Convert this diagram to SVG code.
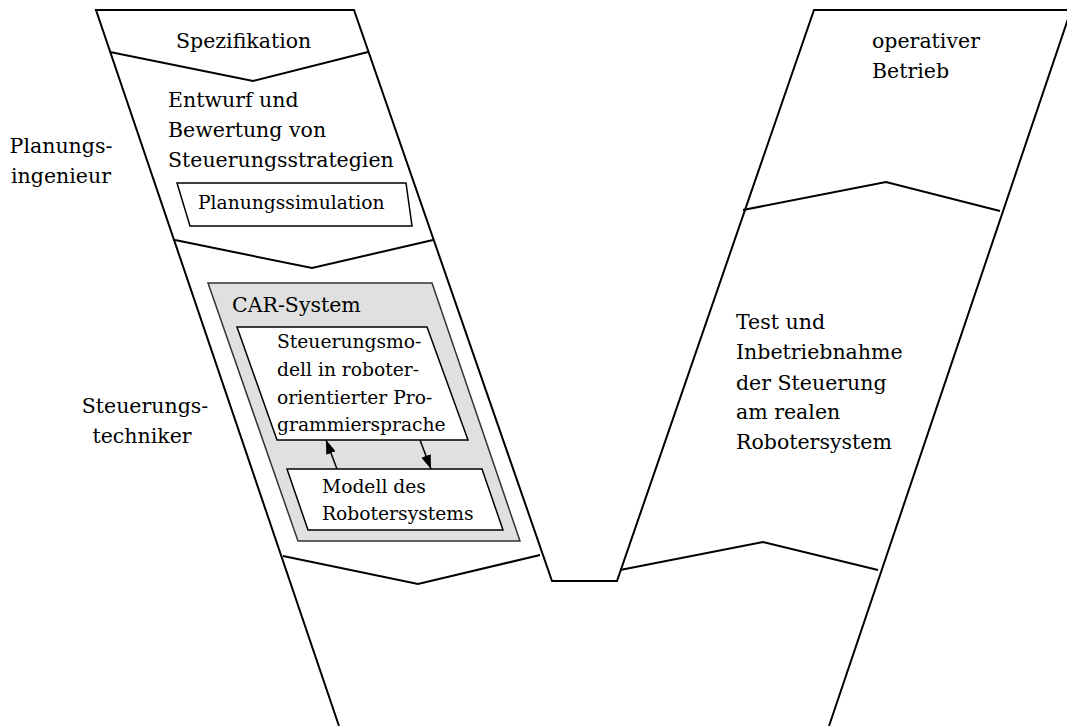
<svg xmlns="http://www.w3.org/2000/svg" width="1067" height="726" viewBox="0 0 1067 726">
  <style>
    .outline { fill: none; stroke: #000; stroke-width: 2; stroke-linejoin: miter; }
    .divider { fill: none; stroke: #000; stroke-width: 2; }
    .box { fill: #fff; stroke: #000; stroke-width: 1.5; }
    .gray { fill: #e0e0e0; stroke: #333; stroke-width: 1.5; }
    .t { font-family: "DejaVu Serif", "Liberation Serif", serif; font-size: 20.5px; fill: #000; }
    .s { font-family: "DejaVu Serif", "Liberation Serif", serif; font-size: 18.7px; fill: #000; }
    .mid { text-anchor: middle; }
    .conn { fill: none; stroke: #000; stroke-width: 1.5; }
  </style>
  <defs>
    <marker id="arrow" viewBox="0 0 14 10" refX="14" refY="5" markerWidth="14" markerHeight="10" markerUnits="userSpaceOnUse" orient="auto">
      <path d="M0,0 L14,5 L0,10 Z" fill="#000"/>
    </marker>
  </defs>
  <rect width="1067" height="726" fill="#fff"/>

  <g id="v-outline">
    <path class="outline" d="M339,726 L96,10 L354,10 L552,581 L617,581 L814,10 L1071,10 L829,726"/>
  </g>

  <g id="phase-dividers">
    <path class="divider" d="M110,52 L253,81 L368,52"/>
    <path class="divider" d="M175,240 L312,268 L433,240"/>
    <path class="divider" d="M283,556 L418,584 L540,555"/>
    <path class="divider" d="M743,210 L886,182 L1000,211"/>
    <path class="divider" d="M620,570 L763,542 L878,570"/>
  </g>

  <g id="role-planungsingenieur">
    <text class="t mid" x="61" y="153">Planungs-</text>
    <text class="t mid" x="61" y="183">ingenieur</text>
  </g>

  <g id="role-steuerungstechniker">
    <text class="t mid" x="145" y="413">Steuerungs-</text>
    <text class="t mid" x="142" y="443">techniker</text>
  </g>

  <g id="spezifikation">
    <text class="t" x="176" y="48">Spezifikation</text>
  </g>

  <g id="entwurf">
    <text class="t" x="168" y="107">Entwurf und</text>
    <text class="t" x="168" y="137">Bewertung von</text>
    <text class="t" x="168" y="167">Steuerungsstrategien</text>
  </g>

  <g id="planungssimulation">
    <path class="box" d="M177,183 L406,183 L412,226 L190,226 Z"/>
    <text class="s" x="198" y="209">Planungssimulation</text>
  </g>

  <g id="car-system">
    <path class="gray" d="M208,283 L432,283 L520,541 L298,541 Z"/>
    <text class="t" x="232" y="312">CAR-System</text>
  </g>

  <g id="steuerungsmodell">
    <path class="box" d="M237,327 L427,327 L468,440 L277,440 Z"/>
    <text class="s" x="277" y="348">Steuerungsmo-</text>
    <text class="s" x="277" y="376">dell in roboter-</text>
    <text class="s" x="277" y="404">orientierter Pro-</text>
    <text class="s" x="277" y="431">grammiersprache</text>
  </g>

  <g id="modell-robotersystem">
    <path class="box" d="M287,469 L482,469 L503,530 L308,530 Z"/>
    <text class="s" x="322" y="493">Modell des</text>
    <text class="s" x="322" y="520">Robotersystems</text>
  </g>

  <g id="operativer-betrieb">
    <text class="t" x="872" y="48">operativer</text>
    <text class="t" x="872" y="78">Betrieb</text>
  </g>

  <g id="test-inbetriebnahme">
    <text class="t" x="736" y="329">Test und</text>
    <text class="t" x="736" y="359">Inbetriebnahme</text>
    <text class="t" x="736" y="390">der Steuerung</text>
    <text class="t" x="736" y="419">am realen</text>
    <text class="t" x="736" y="449">Robotersystem</text>
  </g>

  <g id="connectors">
    <line class="conn" x1="337" y1="469" x2="326" y2="440" marker-end="url(#arrow)"/>
    <line class="conn" x1="420" y1="440" x2="431" y2="469" marker-end="url(#arrow)"/>
  </g>
</svg>
